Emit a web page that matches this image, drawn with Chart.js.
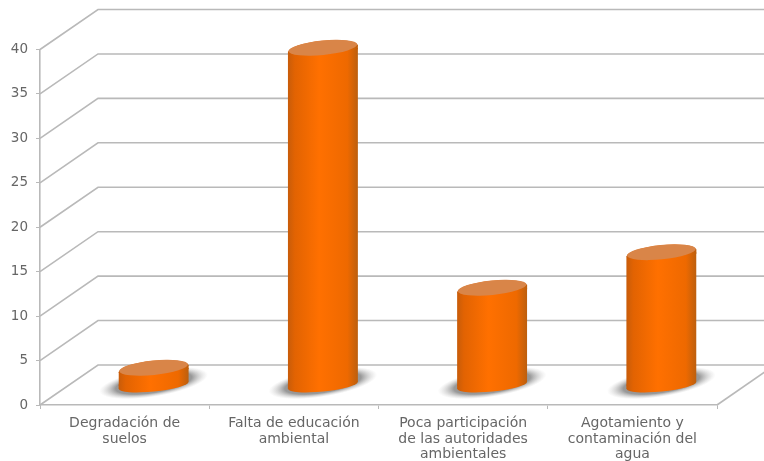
<!DOCTYPE html>
<html>
<head>
<meta charset="utf-8">
<style>
  html, body { margin: 0; padding: 0; background: #fff; overflow: hidden; }
  canvas { display: block; filter: blur(0.6px); }
</style>
<script src="https://cdn.jsdelivr.net/npm/chart.js@4"></script>
</head>
<body>
<canvas id="chart" width="764" height="461"></canvas>
<script>
var categories = [
  ["Degradación de", "suelos"],
  ["Falta de educación", "ambiental"],
  ["Poca participación", "de las autoridades", "ambientales"],
  ["Agotamiento y", "contaminación del", "agua"]
];
var values = [2, 38, 11, 15];

var wallDx = 58, wallDy = -40;   // depth of the fake 3d box
var barDx = 29, barDy = -19;     // bars stand half way in
var lineColor = "#b9b9b9";
var tilt = -0.1;

function bodyGradient(c, cx, halfW) {
  var g = c.createLinearGradient(cx - halfW, 0, cx + halfW, 0);
  g.addColorStop(0, "#c85c0a");
  g.addColorStop(0.1, "#e26302");
  g.addColorStop(0.45, "#ff7000");
  g.addColorStop(0.85, "#ee6900");
  g.addColorStop(1, "#bc5f0e");
  return g;
}

var box3d = {
  id: "box3d",
  beforeDatasetsDraw: function(chart) {
    var c = chart.ctx, a = chart.chartArea, y = chart.scales.y;
    c.save();
    c.strokeStyle = lineColor;
    c.lineWidth = 1.6;
    y.ticks.forEach(function(t) {
      var py = y.getPixelForValue(t.value);
      c.beginPath();
      c.moveTo(a.left, py);
      c.lineTo(a.left + wallDx, py + wallDy);
      c.lineTo(chart.width, py + wallDy);
      c.stroke();
    });
    // right side of the floor
    c.beginPath();
    c.moveTo(a.right, a.bottom);
    c.lineTo(a.right + wallDx, a.bottom + wallDy);
    c.stroke();
    c.restore();

    // shadows on the floor
    var meta = chart.getDatasetMeta(0);
    meta.data.forEach(function(bar) {
      c.save();
      c.translate(bar.x + barDx, a.bottom - 22);
      c.rotate(-0.16);
      c.scale(1, 0.25);
      var g = c.createRadialGradient(0, 0, 0, 0, 0, 55);
      g.addColorStop(0, "rgba(120,120,120,0.95)");
      g.addColorStop(0.7, "rgba(135,135,135,0.85)");
      g.addColorStop(1, "rgba(200,200,200,0)");
      c.fillStyle = g;
      c.beginPath();
      c.arc(0, 0, 55, 0, Math.PI * 2);
      c.fill();
      c.restore();
    });

    // everything from here to afterDatasetsDraw sits inside the box
    c.save();
    c.translate(barDx, barDy);
    meta.data.forEach(function(bar) {
      var r = bar.width / 2, d = r * Math.sin(-tilt);
      c.fillStyle = bodyGradient(c, bar.x, r);
      c.beginPath();
      c.ellipse(bar.x, bar.base, r, 6, tilt, 0, Math.PI * 2);
      c.fill();
      // slanted ends of the body, the bar itself is square
      c.beginPath();
      c.moveTo(bar.x, bar.y);
      c.lineTo(bar.x + r, bar.y - d);
      c.lineTo(bar.x + r, bar.y + 1);
      c.closePath();
      c.moveTo(bar.x, bar.base);
      c.lineTo(bar.x - r, bar.base + d);
      c.lineTo(bar.x - r, bar.base - 1);
      c.closePath();
      c.fill();
    });
    c.save();
    c.beginPath();
    meta.data.forEach(function(bar) {
      var r = bar.width / 2, d = r * Math.sin(-tilt);
      c.moveTo(bar.x - r, bar.y + d);
      c.lineTo(bar.x + r, bar.y - d);
      c.lineTo(bar.x + r, bar.base - d);
      c.lineTo(bar.x - r, bar.base + d);
      c.closePath();
    });
    c.clip();
  },
  afterDatasetsDraw: function(chart) {
    var c = chart.ctx;
    c.restore();
    chart.getDatasetMeta(0).data.forEach(function(bar) {
      var r = bar.width / 2;
      c.fillStyle = bodyGradient(c, bar.x, r);
      c.beginPath();
      c.ellipse(bar.x, bar.y + 0.5, r, 8, tilt, 0, Math.PI * 2);
      c.fill();
      c.fillStyle = "#d98548";
      c.beginPath();
      c.ellipse(bar.x, bar.y - 0.5, r - 0.5, 7.2, tilt, 0, Math.PI * 2);
      c.fill();
    });
    c.restore();
  }
};

new Chart(document.getElementById("chart"), {
  type: "bar",
  plugins: [box3d],
  data: {
    labels: categories,
    datasets: [{
      data: values,
      clip: false,
      barThickness: 70,
      backgroundColor: function(context) {
        var i = context.dataIndex;
        var px = i === undefined ? NaN : context.chart.scales.x.getPixelForValue(i);
        if (!isFinite(px)) return "#f06a00";
        return bodyGradient(context.chart.ctx, px, 35);
      }
    }]
  },
  options: {
    responsive: false,
    animation: false,
    layout: { padding: { top: 49.5, right: 47, left: 0, bottom: 0 } },
    plugins: { legend: { display: false }, title: { display: false }, tooltip: { enabled: false } },
    scales: {
      x: {
        afterFit: function(s) { s.height = 56; },
        border: { color: lineColor, width: 1.6 },
        grid: { drawOnChartArea: false, color: lineColor, tickLength: 4 },
        ticks: {
          color: "#666666",
          padding: 7,
          maxRotation: 0,
          font: { family: "DejaVu Sans", size: 14, lineHeight: 1.11 }
        }
      },
      y: {
        min: 0,
        max: 40,
        afterFit: function(s) { s.width = 40; },
        border: { color: lineColor, width: 1.6 },
        grid: { drawOnChartArea: false, color: lineColor, tickLength: 4 },
        ticks: {
          stepSize: 5,
          color: "#666666",
          padding: 8,
          font: { family: "DejaVu Sans", size: 13.5 }
        }
      }
    }
  }
});
</script>
</body>
</html>
